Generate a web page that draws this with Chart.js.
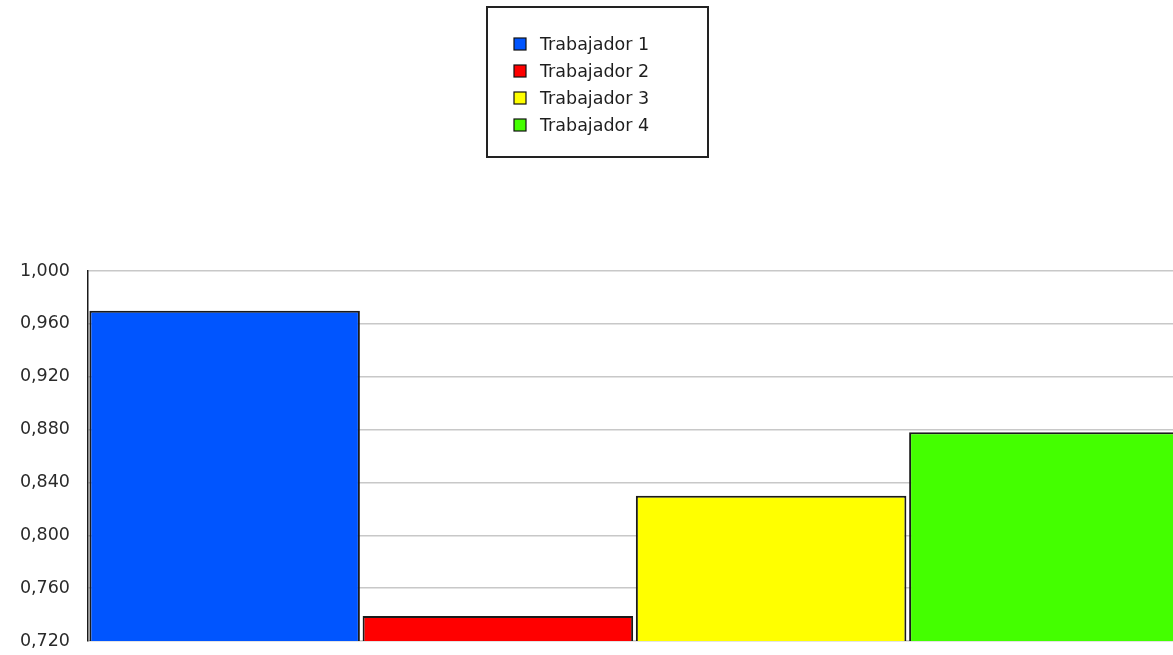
<!DOCTYPE html>
<html>
<head>
<meta charset="utf-8">
<script src="https://cdn.jsdelivr.net/npm/chart.js@4/dist/chart.umd.min.js"></script>
<style>
  html, body { margin: 0; padding: 0; background: #fff; overflow: hidden; }
  canvas { display: block; }
</style>
</head>
<body>
<canvas id="barChart" width="1186" height="655"></canvas>
<script>
const categories = [""];
const seriesNames = ["Trabajador 1", "Trabajador 2", "Trabajador 3", "Trabajador 4"];
const seriesValues = [0.970, 0.739, 0.830, 0.878];
const seriesColors = ["#0055ff", "#ff0000", "#ffff00", "#44ff00"];
const yMin = 0.720;
const yMax = 1.000;
const yStep = 0.040;

// legend drawn as a framed box above the plot
const boxLegend = {
  id: "boxLegend",
  afterDraw(chart) {
    const ctx = chart.ctx;
    ctx.save();
    ctx.fillStyle = "#fff";
    ctx.fillRect(487, 7, 221, 150);
    ctx.lineWidth = 2;
    ctx.strokeStyle = "#222";
    ctx.strokeRect(487, 7, 221, 150);

    ctx.font = "17.5px 'DejaVu Sans', sans-serif";
    ctx.textBaseline = "alphabetic";
    chart.data.datasets.forEach((ds, i) => {
      const cy = 44 + i * 27;
      ctx.fillStyle = ds.backgroundColor;
      ctx.fillRect(514, cy - 6, 12, 12);
      ctx.lineWidth = 1.2;
      ctx.strokeStyle = "#111";
      ctx.strokeRect(514, cy - 6, 12, 12);
      ctx.fillStyle = "#1e1e1e";
      ctx.fillText(ds.label, 540, cy + 5.5);
    });
    ctx.restore();
  }
};

const ctx = document.getElementById("barChart").getContext("2d");

new Chart(ctx, {
  type: "bar",
  data: {
    labels: categories,
    datasets: seriesNames.map((name, i) => ({
      label: name,
      data: [seriesValues[i]],
      backgroundColor: seriesColors[i],
      borderColor: "#1a1a1a",
      borderWidth: 2,
      borderSkipped: false,
      categoryPercentage: 1,
      barPercentage: 0.99
    }))
  },
  options: {
    responsive: false,
    animation: false,
    layout: { padding: { top: 271, bottom: 14, left: 0, right: 5 } },
    scales: {
      x: { display: false },
      y: {
        min: yMin,
        max: yMax,
        afterFit: (s) => {
          s.width = 88;
          // tick padding is horizontal only here, keep it out of the vertical space
          s.paddingTop = 11;
          s.paddingBottom = 11;
        },
        border: { display: true, color: "#1a1a1a", width: 1.5 },
        grid: { color: "#c8c8c8", lineWidth: 1.5, drawTicks: false },
        ticks: {
          stepSize: yStep,
          padding: 18,
          color: "#2a2a2a",
          font: { family: "'DejaVu Sans', sans-serif", size: 17.5 },
          callback: (v) => Number(v).toFixed(3).replace(".", ",")
        }
      }
    },
    plugins: {
      legend: { display: false },
      tooltip: { enabled: false }
    }
  },
  plugins: [boxLegend]
});
</script>
</body>
</html>
